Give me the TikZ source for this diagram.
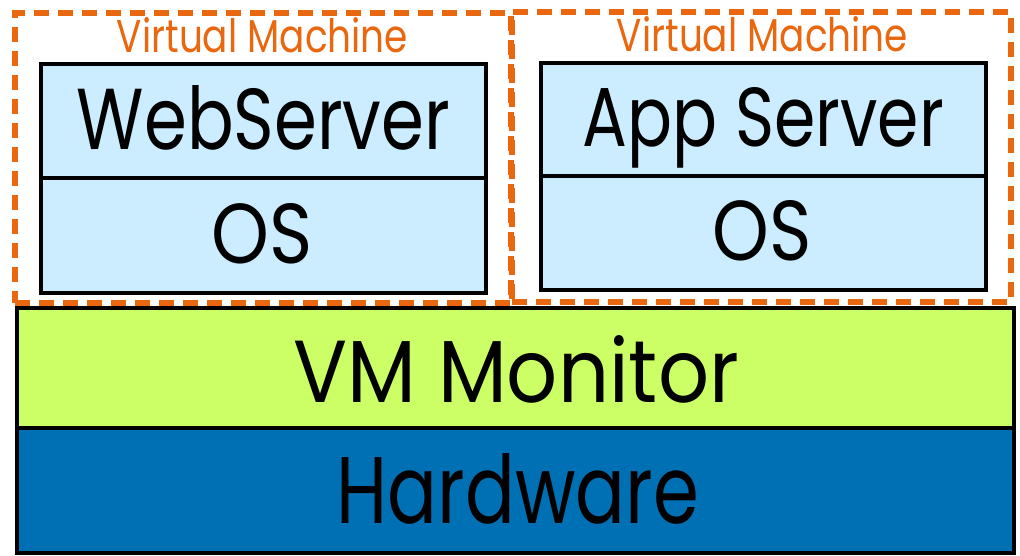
\documentclass[tikz,border=0pt]{standalone}
\usepackage{fontspec}
\usepackage{graphicx}
\setmainfont{Poppins}
\definecolor{vmorange}{HTML}{E9670E}
\definecolor{osblue}{HTML}{CCECFF}
\definecolor{vmmgreen}{HTML}{CCFF66}
\definecolor{hwblue}{HTML}{0070B5}
% set a label to an exact width and height (above the baseline)
\newcommand{\sizedlabel}[3]{\resizebox{#1}{#2}{#3}}
\begin{document}
\begin{tikzpicture}[x=1pt,y=-1pt,
  layer/.style={draw=black, line width=4pt, inner sep=0pt, rectangle},
  vmframe/.style={draw=vmorange, line width=6pt, dash pattern=on 15pt off 9pt, inner sep=0pt, rectangle},
  biglabel/.style={anchor=base, inner sep=0pt, text=black},
  vmlabel/.style={anchor=base, inner sep=0pt, text=vmorange}]
  \useasboundingbox[fill=white] (0,0) rectangle (1020,556);

  % virtual machine frames
  \node[vmframe, minimum width=496pt, minimum height=290pt] (vm1) at (263,158) {};
  \node[vmframe, minimum width=499pt, minimum height=290pt] (vm2) at (761.5,157) {};
  \node[vmlabel] (vm1t) at (262.5,53) {\sizedlabel{291pt}{35pt}{Virtual Machine}};
  \node[vmlabel] (vm2t) at (762.5,52) {\sizedlabel{291pt}{35pt}{Virtual Machine}};

  % guest stacks
  \node[layer, fill=osblue, minimum width=445pt, minimum height=114pt] (web) at (263.5,121) {};
  \node[layer, fill=osblue, minimum width=445pt, minimum height=115pt] (os1) at (263.5,235.5) {};
  \node[layer, fill=osblue, minimum width=445pt, minimum height=113pt] (app) at (763.5,119.5) {};
  \node[layer, fill=osblue, minimum width=445pt, minimum height=114pt] (os2) at (763.5,233) {};
  \node[biglabel] (webt) at (263.5,150) {\sizedlabel{373pt}{64pt}{WebServer}};
  \node[biglabel] (os1t) at (262.5,264) {\sizedlabel{101pt}{60pt}{OS}};
  \node[biglabel] (appt) at (763.5,147) {\sizedlabel{361pt}{59pt}{App Server}};
  \node[biglabel] (os2t) at (762.5,261) {\sizedlabel{99pt}{60pt}{OS}};

  % host layers
  \node[layer, fill=vmmgreen, minimum width=997pt, minimum height=120pt] (vmm) at (515.5,368) {};
  \node[layer, fill=hwblue, minimum width=997pt, minimum height=125pt] (hw) at (515.5,490.5) {};
  \node[biglabel] (vmmt) at (516.5,402) {\sizedlabel{445pt}{67pt}{VM Monitor}};
  \node[biglabel] (hwt) at (518,523) {\sizedlabel{362pt}{70pt}{Hardware}};
\end{tikzpicture}
\end{document}
